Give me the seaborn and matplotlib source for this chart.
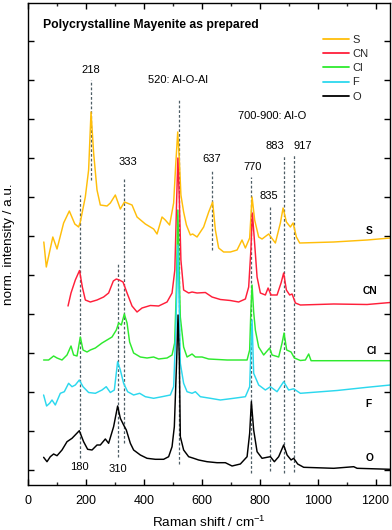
import numpy as np
import pandas as pd
import matplotlib
matplotlib.use("Agg")
import matplotlib.pyplot as plt
import seaborn as sns

# ---------------- data (wavenumber cm-1, normalised intensity a.u. incl. offset) -------------
s_w = [54.6, 63.2, 85.7, 100.2, 123, 142.7, 161.6, 174.8, 180.6, 197.9, 209.3, 217.6, 226.6,
       238.3, 249.7, 272.9, 284.3, 301.5, 318.8, 333, 359.2, 376.5, 405.2, 433.8, 445.6, 462.8,
       474, 489, 502.9, 510, 517, 522.6, 528, 537.4, 547, 560.6, 568.5, 583.7, 606.5, 624,
       637.6, 647, 658.3, 675.6, 698.7, 722, 739, 750.6, 765.4, 773.7, 782.7, 796.5, 808.2,
       831, 854.2, 871.5, 880.8, 892.2, 906, 915.3, 926.8, 938.2, 1055.6, 1171, 1251]
s_i = [243, 218, 248, 236, 262, 274, 261, 258, 263, 288, 315, 373, 332,
       295, 280, 279, 282, 290, 276, 283, 280, 268, 261, 256, 251, 268,
       265, 260, 282, 320, 353, 325, 290, 273, 260, 250, 251, 248, 258, 273,
       283, 255, 237, 233, 233, 235, 245, 237, 247, 288, 265, 248, 246,
       251, 242, 262, 277, 263, 258, 262, 248, 242, 243, 245, 247]

cn_w = [138.2, 148.5, 163.4, 177.9, 187.6, 198, 215.2, 238.3, 261.1, 278.4, 294.6, 305, 315.3,
        328.1, 342, 359.2, 376.5, 393.8, 422.4, 451.1, 480.1, 497.4, 507, 513.3, 517.5, 522.6,
        528, 537.4, 554.7, 566.5, 583.7, 612.4, 635.5, 664.2, 698.7, 727.4, 750.6, 762, 769.6,
        774.8, 781.7, 791, 802.4, 819.6, 829, 839.3, 860, 873.8, 882.8, 892.2, 903.6, 911.9,
        923.3, 940.5, 1055.6, 1171, 1251]
cn_i = [179, 192, 205, 214.5, 198, 185, 183, 185, 188, 192, 204, 206, 205,
        203, 192, 179, 173, 177, 179.5, 179, 183, 192, 215, 285, 327, 285,
        225, 195, 192, 193, 192, 192.5, 188, 185.5, 184.5, 183, 186, 198, 235,
        272, 245, 208, 192, 190, 197, 190, 190, 202, 212, 195, 190, 191,
        182, 180, 181, 180.5, 182.5]

cl_w = [53.9, 71.2, 88.4, 100.2, 117.4, 134.7, 148.5, 157.5, 169.2, 180.6, 190, 203.8, 215.2,
        232.5, 255.6, 272.9, 290.1, 305, 313, 322.3, 332.6, 342, 350.9, 364.7, 387.9, 411,
        433.8, 451.1, 480.1, 497.4, 506.4, 512.2, 517.5, 522.6, 526, 537.4, 549.2, 566.5,
        577.9, 601, 623.8, 687.4, 756.5, 765.4, 769.6, 773.7, 779.2, 785.1, 796.5, 813.8,
        834.5, 842.8, 865.6, 877.3, 884.2, 893.2, 908.4, 919.8, 940.5, 957.8, 969.2, 977.5,
        1067.3, 1251]
cl_i = [125, 125, 129, 127, 125, 130, 139, 130, 129, 148, 135, 133, 135,
        137, 142, 145, 148, 155, 162, 160, 171, 162, 143, 132, 128, 127,
        128, 126, 127, 130, 142, 195, 275, 205, 168, 138, 128, 131,
        128, 128, 126, 125, 125, 135, 175, 200, 173, 155, 138, 130,
        137, 130, 128, 142, 152, 135, 133, 127, 124.5, 125, 131, 124.3,
        124.3, 124.3]

f_w = [53.9, 64.2, 74.6, 82.9, 94.3, 111.6, 125.4, 140.2, 152, 163.4, 177.2, 190, 209.3,
       232.5, 255.6, 270.1, 284.3, 298.1, 309.5, 318.8, 330.2, 344, 364.7, 385.5, 405.2,
       433.8, 462.8, 491.5, 502.9, 510.5, 517.5, 522.6, 526, 537.4, 549.2, 566.5, 577.9,
       595.1, 629.7, 664.2, 710.2, 750.6, 765.4, 769.6, 773.7, 779.2, 796.5, 819.6, 836.9,
       860, 882.8, 900, 917.4, 940.5, 1067.3, 1171, 1251]
f_i = [90, 79, 81.7, 85, 80, 91.7, 93.3, 101.7, 98.3, 100, 105, 98.3, 92.5,
       91.7, 95, 98.3, 92.5, 95, 123.3, 115, 101.7, 93.3, 90, 91.7, 88.3,
       86.7, 88.3, 90, 98.3, 155, 240, 175, 121.7, 101.7, 93.3, 91.7, 93.3,
       88.3, 86.7, 85, 86.7, 88.3, 98.3, 135, 165, 111.7, 100, 95, 98.3,
       93.3, 103.3, 95, 96.2, 91.7, 94.5, 97.7, 100]

o_w = [53.9, 65.6, 77, 88.4, 100.2, 117.4, 134.7, 152, 177.2, 192, 205.9, 221.1, 238.3,
       249.7, 267, 278.4, 295.6, 309.5, 318.8, 330.2, 339.5, 353.4, 364.7, 387.9, 411,
       439.7, 468.4, 485.6, 497.4, 505.3, 513.3, 518, 522.6, 526, 537.4, 554.7, 572, 589.3,
       618.3, 652.8, 681.5, 704.6, 733.3, 756.5, 765.4, 771.3, 779.2, 791, 808.2, 825.5,
       836.9, 850.7, 865.6, 882.8, 894.6, 908.4, 917.4, 931.2, 952, 1055.6, 1124.7, 1136.4,
       1251]
o_i = [27.7, 23.3, 28.3, 31, 29.3, 35, 43.3, 46.7, 54.3, 43.3, 35.7, 35, 40,
       40, 46, 41.7, 58.3, 79, 66.7, 60, 55, 41.7, 35, 30, 26.7,
       25.7, 25.7, 28.3, 38.3, 58.3, 125, 170, 125, 48.3, 35, 28.3, 26.7, 25,
       23.3, 22.3, 22.3, 19, 21, 28.3, 51.7, 83.3, 55, 33.3, 26.7, 27.7,
       28.3, 23.3, 28.3, 40, 30, 25, 26.7, 21, 17.7, 16.7, 18.3, 16.7,
       15.7]

samples = ["S", "CN", "Cl", "F", "O"]
colors = ["#FFBE0A", "#FF1F3A", "#2EEA2E", "#2CD8EE", "#000000"]

# reference peak lines
peak_pos = [180, 218, 310, 333, 520, 637, 770, 835, 883, 917]
peak_top = [290, 405, 222, 308, 386, 315, 308, 279, 329, 330]
peak_bot = [27, 305, 28, 42, 21, 235, 12, 14, 12, 13]

# peak annotations
ann_text = ["218", "333", "520: Al-O-Al", "637", "770", "883", "917", "700-900: Al-O", "835", "180", "310"]
ann_x = [218, 345, 517, 635, 774, 852, 947, 844, 833, 176, 310]
ann_y = [415, 323, 405, 326, 318, 339, 339, 369, 289, 18, 16]

# sample labels at right
lab_x = [1177, 1182, 1188, 1177, 1179]
lab_y = [253.5, 194, 134, 80.7, 26.7]

# ---------------- build long-form table ----------------
frames = []
for name, w, i in [("S", s_w, s_i), ("CN", cn_w, cn_i), ("Cl", cl_w, cl_i),
                   ("F", f_w, f_i), ("O", o_w, o_i)]:
    frames.append(pd.DataFrame({"w": w, "I": i, "sample": name}))
df = pd.concat(frames, ignore_index=True)

sns.set_theme(style="ticks")
plt.rcParams["font.family"] = ["Liberation Sans", "DejaVu Sans"]
plt.rcParams["mathtext.fontset"] = "custom"
plt.rcParams["mathtext.rm"] = "Liberation Sans"
plt.rcParams["mathtext.it"] = "Liberation Sans:italic"
plt.rcParams["mathtext.bf"] = "Liberation Sans:bold"

fig = plt.figure(figsize=(3.92, 5.30), dpi=100)
ax = fig.add_axes([28 / 392, 45 / 530, 362 / 392, 482 / 530])

# dashed reference lines (drawn first, under spectra)
for p, t, b in zip(peak_pos, peak_top, peak_bot):
    ax.plot([p, p], [b, t], color="#4E5E66", lw=0.9, ls=(0, (2.2, 1.6)), zorder=1)

sns.lineplot(data=df, x="w", y="I", hue="sample", hue_order=samples,
             palette=dict(zip(samples, colors)), estimator=None, sort=False,
             lw=1.05, ax=ax, zorder=2)

ax.set_xlim(0, 1250)
ax.set_ylim(0, 482)
ax.set_xticks(np.arange(0, 1201, 200))
ax.set_xticks(np.arange(0, 1251, 100), minor=True)
ax.set_yticks(np.arange(15, 480, 39))
ax.set_yticklabels([])
ax.tick_params(axis="both", which="major", direction="in", length=4, width=1.0,
               top=True, right=True, labelsize=9, pad=7.5, color="black", labelcolor="black")
ax.tick_params(axis="x", which="minor", direction="in", length=2.5, width=1.0, top=True)
for sp in ax.spines.values():
    sp.set_linewidth(1.0)
    sp.set_color("black")

ax.set_xlabel("Raman shift / cm$^{-1}$", fontsize=9.7, labelpad=5, color="black")
ax.set_ylabel("norm. intensity / a.u.", fontsize=9.7, color="black")
ax.yaxis.set_label_coords(-0.036, 0.5)

# title
ax.text(0.041, 0.954, "Polycrystalline Mayenite as prepared", transform=ax.transAxes,
        fontsize=8.8, fontweight="bold", ha="left", va="center", color="black")

for t, x, y in zip(ann_text, ann_x, ann_y):
    ax.text(x, y, t, fontsize=8.0, ha="center", va="center", color="black")

for t, x, y in zip(samples, lab_x, lab_y):
    ax.text(x, y, t, fontsize=7.4, fontweight="bold", ha="center", va="center", color="black")

handles, labels = ax.get_legend_handles_labels()
for h in handles:
    h.set_linewidth(1.3)
ax.legend(handles, labels, loc="upper left", bbox_to_anchor=(0.815, 0.934),
          frameon=False, fontsize=8, handlelength=2.3, handletextpad=0.35,
          labelspacing=0.38, borderpad=0, borderaxespad=0)

fig.savefig("out.png", dpi=100)
